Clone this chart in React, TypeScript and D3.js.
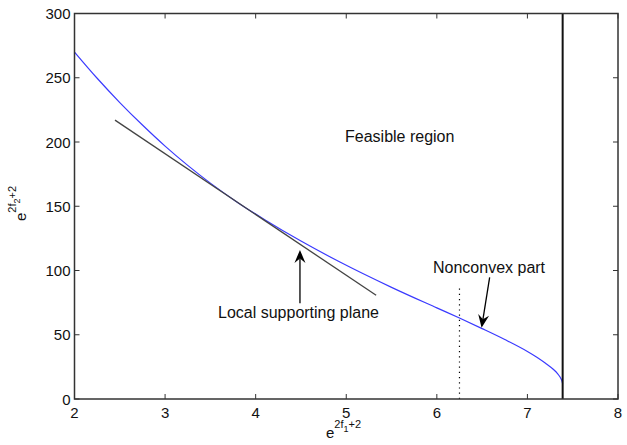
import * as d3 from "d3";

// axis ticks
const xTicks = [2, 3, 4, 5, 6, 7, 8];
const yTicks = [0, 50, 100, 150, 200, 250, 300];

// boundary curve
const curveX = [2.0, 2.25, 2.5, 2.75, 3.0, 3.25, 3.5, 3.8, 4.1, 4.5, 4.93, 5.5, 6.0, 6.25, 6.5, 6.75, 7.0, 7.1, 7.2, 7.285, 7.33, 7.36, 7.38, 7.389];
const curveY = [270, 249.6, 230.7, 213.2, 196.8, 181.8, 168, 153, 139.5, 122.9, 106.6, 86.9, 70.9, 63, 54.8, 46.3, 37, 32.7, 27.8, 23.1, 20, 17.1, 14.3, 12];

// local supporting plane (tangent segment)
const tangentX = [2.447, 5.33];
const tangentY = [217, 80.7];

// vertical limit at e^2 and dotted split
const limitX = 7.389;
const dottedX = 6.25;
const dottedY = [0, 87];

// annotation arrows [tailX, tailY, tipX, tipY]
const planeArrow = [4.489, 74.5, 4.489, 116];
const nonconvexArrow = [6.583, 94.7, 6.494, 55.5];

const W = 627;
const H = 445;
const m = { left: 74.5, right: 9, top: 13.5, bottom: 46 };
const font = "'Liberation Sans', Arial, sans-serif";

function Arrow({ a, x, y }: { a: number[]; x: any; y: any }) {
  const x1 = x(a[0]), y1 = y(a[1]), x2 = x(a[2]), y2 = y(a[3]);
  const ang = Math.atan2(y2 - y1, x2 - x1);
  const len = 13, half = 5.5, notch = 8.5;
  const pt = (d: number, s: number) => [
    x2 - d * Math.cos(ang) - s * Math.sin(ang),
    y2 - d * Math.sin(ang) + s * Math.cos(ang),
  ];
  const [lx, ly] = pt(len, half);
  const [rx, ry] = pt(len, -half);
  const [nx, ny] = pt(notch, 0);
  return (
    <g>
      <line x1={x1} y1={y1} x2={nx} y2={ny} stroke="#000" strokeWidth={1.3} />
      <path d={`M${x2},${y2}L${lx},${ly}L${nx},${ny}L${rx},${ry}Z`} fill="#000" />
    </g>
  );
}

export default function App() {
  const x = d3.scaleLinear().domain([2, 8]).range([m.left, W - m.right]);
  const y = d3.scaleLinear().domain([0, 300]).range([H - m.bottom, m.top]);
  const pts: [number, number][] = curveX.map((v, i) => [v, curveY[i]]);
  const line = d3
    .line<[number, number]>()
    .x((d) => x(d[0]))
    .y((d) => y(d[1]))
    .curve(d3.curveMonotoneX);

  const x0 = x(2), x1 = x(8), y0 = y(0), y1 = y(300);
  const tick = 5;

  return (
    <svg
      width={W}
      height={H}
      style={{ position: "absolute", left: 0, top: 0, background: "#fff" }}
      fontFamily={font}
    >
      {/* curve */}
      <path d={line(pts) || ""} fill="none" stroke="#3a3aff" strokeWidth={1.2} />

      {/* tangent segment */}
      <line
        x1={x(tangentX[0])}
        y1={y(tangentY[0])}
        x2={x(tangentX[1])}
        y2={y(tangentY[1])}
        stroke="#444"
        strokeWidth={1.3}
      />

      {/* vertical limit */}
      <line x1={x(limitX)} x2={x(limitX)} y1={y0} y2={y1} stroke="#111" strokeWidth={2} />

      {/* dotted split */}
      <line
        x1={x(dottedX)}
        x2={x(dottedX)}
        y1={y(dottedY[0])}
        y2={y(dottedY[1])}
        stroke="#000"
        strokeWidth={1.2}
        strokeDasharray="1.2 4"
      />

      {/* frame */}
      <rect x={x0} y={y1} width={x1 - x0} height={y0 - y1} fill="none" stroke="#333" strokeWidth={1.5} />

      {/* ticks */}
      {xTicks.map((t) => (
        <g key={"x" + t}>
          <line x1={x(t)} x2={x(t)} y1={y0} y2={y0 - tick} stroke="#333" />
          <line x1={x(t)} x2={x(t)} y1={y1} y2={y1 + tick} stroke="#333" />
          <text x={x(t)} y={y0 + 19} textAnchor="middle" fontSize={15} fill="#111">
            {t}
          </text>
        </g>
      ))}
      {yTicks.map((t) => (
        <g key={"y" + t}>
          <line x1={x0} x2={x0 + tick} y1={y(t)} y2={y(t)} stroke="#333" />
          <line x1={x1} x2={x1 - tick} y1={y(t)} y2={y(t)} stroke="#333" />
          <text x={x0 - 4} y={y(t) + 5.5} textAnchor="end" fontSize={15} fill="#111">
            {t}
          </text>
        </g>
      ))}

      {/* axis labels */}
      <text x={326} y={438} fontSize={15} fill="#111">
        e
        <tspan dy={-10} fontSize={11}>2f</tspan>
        <tspan dy={4} fontSize={9}>1</tspan>
        <tspan dy={-4} fontSize={11}>+2</tspan>
      </text>
      <text transform="translate(26,221) rotate(-90)" fontSize={15} fill="#111">
        e
        <tspan dy={-10} fontSize={11}>2f</tspan>
        <tspan dy={4} fontSize={9}>2</tspan>
        <tspan dy={-4} fontSize={11}>+2</tspan>
      </text>

      {/* annotations */}
      <text x={345} y={141.5} fontSize={16} fill="#111">Feasible region</text>
      <text x={218} y={318} fontSize={16} fill="#111">Local supporting plane</text>
      <text x={433} y={273} fontSize={16} fill="#111">Nonconvex part</text>
      <Arrow a={planeArrow} x={x} y={y} />
      <Arrow a={nonconvexArrow} x={x} y={y} />
    </svg>
  );
}
